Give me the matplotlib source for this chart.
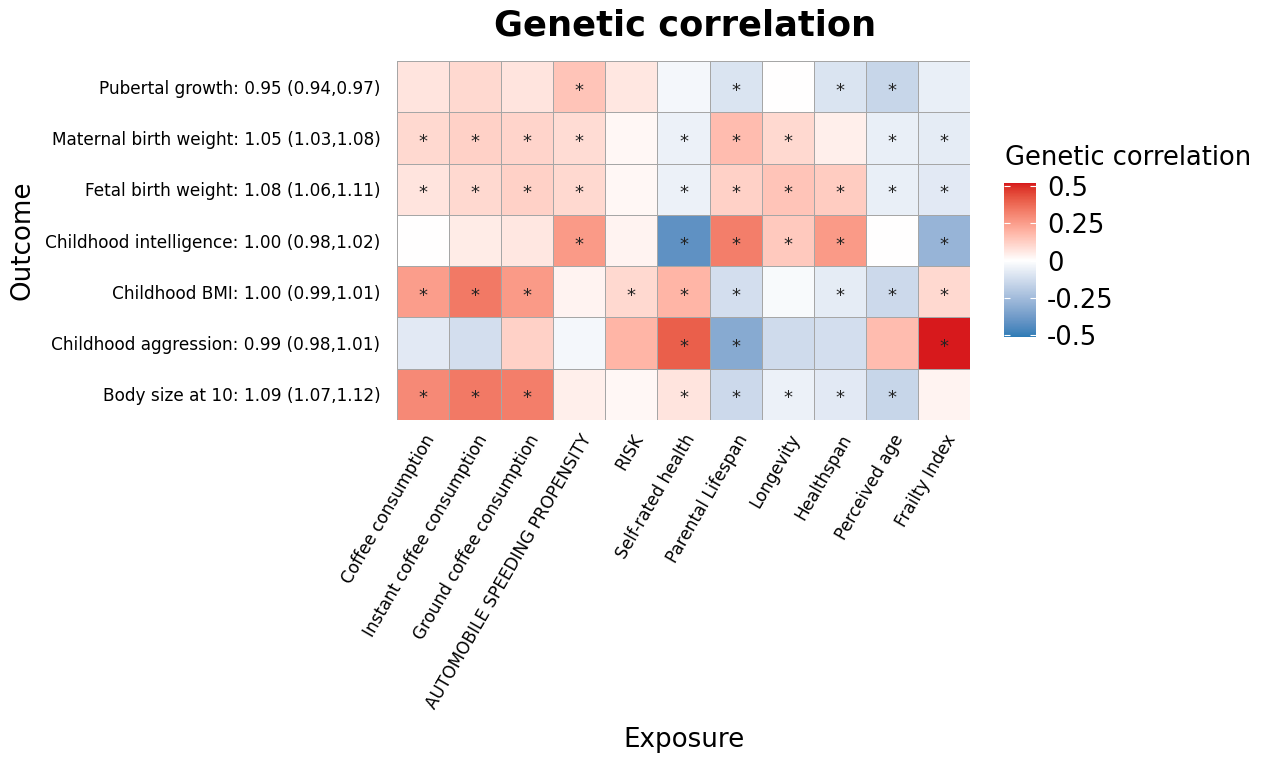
import numpy as np
import matplotlib
matplotlib.use("Agg")
import matplotlib.pyplot as plt
from matplotlib.colors import LinearSegmentedColormap, Normalize

outcomes = [
    "Pubertal growth: 0.95 (0.94,0.97)",
    "Maternal birth weight: 1.05 (1.03,1.08)",
    "Fetal birth weight: 1.08 (1.06,1.11)",
    "Childhood intelligence: 1.00 (0.98,1.02)",
    "Childhood BMI: 1.00 (0.99,1.01)",
    "Childhood aggression: 0.99 (0.98,1.01)",
    "Body size at 10: 1.09 (1.07,1.12)",
]
exposures = [
    "Coffee consumption", "Instant coffee consumption", "Ground coffee consumption",
    "AUTOMOBILE SPEEDING PROPENSITY", "RISK", "Self-rated health", "Parental Lifespan",
    "Longevity", "Healthspan", "Perceived age", "Frailty Index",
]

# genetic correlations, one row per outcome (top to bottom)
rg = np.array([
    [0.07, 0.10, 0.07, 0.15, 0.06, -0.03, -0.10, 0.00, -0.10, -0.15, -0.06],
    [0.10, 0.12, 0.11, 0.09, 0.02, -0.05, 0.17, 0.10, 0.04, -0.06, -0.07],
    [0.07, 0.10, 0.12, 0.10, 0.02, -0.05, 0.12, 0.15, 0.13, -0.06, -0.08],
    [0.00, 0.05, 0.06, 0.26, 0.03, -0.42, 0.33, 0.14, 0.26, 0.00, -0.28],
    [0.25, 0.34, 0.26, 0.03, 0.10, 0.19, -0.12, -0.02, -0.07, -0.14, 0.10],
    [-0.08, -0.12, 0.12, -0.03, 0.19, 0.40, -0.32, -0.13, -0.12, 0.17, 0.52],
    [0.30, 0.34, 0.33, 0.04, 0.02, 0.07, -0.14, -0.05, -0.08, -0.15, 0.03],
])
signif = np.array([
    [0, 0, 0, 1, 0, 0, 1, 0, 1, 1, 0],
    [1, 1, 1, 1, 0, 1, 1, 1, 0, 1, 1],
    [1, 1, 1, 1, 0, 1, 1, 1, 1, 1, 1],
    [0, 0, 0, 1, 0, 1, 1, 1, 1, 0, 1],
    [1, 1, 1, 0, 1, 1, 1, 0, 1, 1, 1],
    [0, 0, 0, 0, 0, 1, 1, 0, 0, 0, 1],
    [1, 1, 1, 0, 0, 1, 1, 1, 1, 1, 0],
])
cbar_ticks = [-0.5, -0.25, 0, 0.25, 0.5]
cbar_ticklabels = ["-0.5", "-0.25", "0", "0.25", "0.5"]


def _to_lab(hexcol):
    rgb = np.array(matplotlib.colors.to_rgb(hexcol))
    lin = np.where(rgb <= 0.04045, rgb / 12.92, ((rgb + 0.055) / 1.055) ** 2.4)
    m = np.array([[0.4124, 0.3576, 0.1805], [0.2126, 0.7152, 0.0722], [0.0193, 0.1192, 0.9505]])
    xyz = m @ lin / np.array([0.95047, 1.0, 1.08883])
    f = np.where(xyz > 0.008856, np.cbrt(xyz), 7.787 * xyz + 16 / 116)
    return np.array([116 * f[1] - 16, 500 * (f[0] - f[1]), 200 * (f[1] - f[2])])


def _from_lab(lab):
    fy = (lab[0] + 16) / 116
    fx = fy + lab[1] / 500
    fz = fy - lab[2] / 200
    f = np.array([fx, fy, fz])
    xyz = np.where(f ** 3 > 0.008856, f ** 3, (f - 16 / 116) / 7.787) * np.array([0.95047, 1.0, 1.08883])
    mi = np.array([[3.2406, -1.5372, -0.4986], [-0.9689, 1.8758, 0.0415], [0.0557, -0.2040, 1.0570]])
    lin = mi @ xyz
    rgb = np.where(lin <= 0.0031308, 12.92 * lin, 1.055 * np.clip(lin, 0, None) ** (1 / 2.4) - 0.055)
    return np.clip(rgb, 0, 1)


# diverging palette interpolated in Lab like ggplot's gradient2, white at zero
vmin, vmax = -0.513, 0.52
low, mid, high = _to_lab("#2C7BB6"), _to_lab("#FFFFFF"), _to_lab("#D7191C")
steps = np.linspace(0, 1, 64)
cols = [_from_lab(low + (mid - low) * t) for t in steps] + [_from_lab(mid + (high - mid) * t) for t in steps[1:]]
zero_pos = (0 - vmin) / (vmax - vmin)
pos = np.concatenate([np.linspace(0, zero_pos, 64), np.linspace(zero_pos, 1, 64)[1:]])
cmap = LinearSegmentedColormap.from_list("rg", list(zip(pos, cols)))
norm = Normalize(vmin=vmin, vmax=vmax)

fig = plt.figure(figsize=(12.68, 7.59), dpi=100)
ax = fig.add_axes([397 / 1268, 1 - 420 / 759, 573 / 1268, 359 / 759])

ax.pcolormesh(rg, cmap=cmap, norm=norm, edgecolors="#A6A6A6", linewidth=0.6)
ax.set_xlim(0, len(exposures))
ax.set_ylim(len(outcomes), 0)

for i in range(len(outcomes)):
    for j in range(len(exposures)):
        if signif[i, j]:
            ax.text(j + 0.5, i + 0.58, "*", ha="center", va="center",
                    fontsize=13, color="#222222")

ax.set_xticks(np.arange(len(exposures)) + 0.5)
ax.set_xticklabels(exposures, rotation=60, ha="right", va="top",
                   rotation_mode="anchor", fontsize=12.2)
ax.set_yticks(np.arange(len(outcomes)) + 0.5)
ax.set_yticklabels(outcomes, fontsize=12.2)
ax.tick_params(length=0)
ax.tick_params(axis="y", pad=12)
ax.tick_params(axis="x", pad=8)
for s in ax.spines.values():
    s.set_visible(False)

ax.set_xlabel("Exposure", fontsize=18.8)
ax.set_ylabel("Outcome", fontsize=18.8)
ax.xaxis.set_label_coords(0.5, -(727 - 420) / 359)
ax.yaxis.set_label_coords(-(397 - 36) / 573, 0.5)

fig.text(685 / 1268, 1 - 26 / 759, "Genetic correlation", ha="center", va="center",
         fontsize=25.4, fontweight="bold")

cax = fig.add_axes([1004 / 1268, 1 - 337 / 759, 32 / 1268, 154 / 759])
sm = matplotlib.cm.ScalarMappable(norm=norm, cmap=cmap)
cb = fig.colorbar(sm, cax=cax, ticks=cbar_ticks)
cb.ax.set_yticklabels(cbar_ticklabels)
cb.outline.set_visible(False)
cax.yaxis.set_ticks_position("both")
cax.tick_params(direction="in", color="white", length=4, width=0.8,
                labelsize=18.5, pad=8, labelleft=False, labelright=True)
fig.text(1005 / 1268, 1 - 158 / 759, "Genetic correlation", ha="left", va="center",
         fontsize=18.5)

fig.savefig("out.png", dpi=100)
